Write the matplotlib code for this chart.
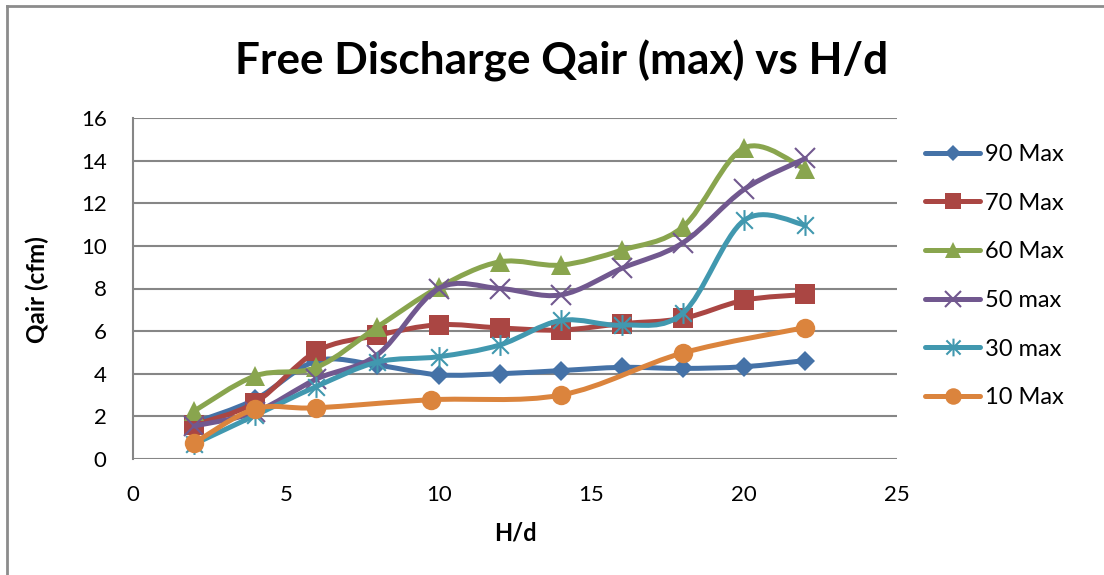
import matplotlib.pyplot as plt
import numpy as np
from matplotlib.path import Path
from matplotlib.patches import PathPatch
from matplotlib.lines import Line2D

plt.rcParams['font.family'] = ['Lato', 'DejaVu Sans']

# Datos
hd = [2, 4, 6, 8, 10, 12, 14, 16, 18, 20, 22]
q90 = [1.7, 2.8, 4.6, 4.4, 3.95, 4.0, 4.15, 4.3, 4.25, 4.33, 4.62]
q70 = [1.6, 2.65, 5.05, 5.8, 6.3, 6.15, 6.05, 6.35, 6.6, 7.45, 7.72]
q60 = [2.25, 3.9, 4.3, 6.2, 8.05, 9.25, 9.1, 9.8, 10.9, 14.6, 13.6]
q50 = [1.55, 2.2, 3.75, 4.9, 8.0, 8.0, 7.7, 8.95, 10.15, 12.65, 14.1]
q30 = [0.7, 2.05, 3.4, 4.55, 4.8, 5.35, 6.5, 6.28, 6.85, 11.2, 10.98]
hd10 = [2, 4, 6, 9.75, 14, 18, 22]
q10 = [0.75, 2.35, 2.4, 2.78, 3.0, 4.98, 6.17]

etiquetas = ['90 Max', '70 Max', '60 Max', '50 max', '30 max', '10 Max']
colores = ['#4572A7', '#AA4643', '#89A54E', '#71588F', '#4198AF', '#DB843D']

# marcador estrella (x con línea vertical) como en Excel
estrella = Path([(0, -1), (0, 1), (-0.8, -0.8), (0.8, 0.8), (-0.8, 0.8), (0.8, -0.8)],
                [Path.MOVETO, Path.LINETO] * 3)
marcadores = [('D', 10), ('s', 14), ('^', 14), ('x', 14), (estrella, 15), ('o', 14)]


# Curva suavizada tipo Excel (Bezier por los puntos)
def curva_suave(x, y):
    pts = np.column_stack([x, y]).astype(float)
    verts = [pts[0]]
    codes = [Path.MOVETO]
    for i in range(len(pts) - 1):
        p0 = pts[i - 1] if i > 0 else pts[i]
        p1 = pts[i]
        p2 = pts[i + 1]
        p3 = pts[i + 2] if i + 2 < len(pts) else p2
        verts += [p1 + (p2 - p0) / 6, p2 - (p3 - p1) / 6, p2]
        codes += [Path.CURVE4] * 3
    return Path(verts, codes)


fig = plt.figure(figsize=(11.04, 5.75), dpi=100)
ax = fig.add_axes([133 / 1104, 1 - 459 / 575, (897 - 133) / 1104, (459 - 118) / 575])

series = [(hd, q90), (hd, q70), (hd, q60), (hd, q50), (hd, q30), (hd10, q10)]
handles = []
for k, (x, y) in enumerate(series):
    c = colores[k]
    m, ms = marcadores[k]
    ax.add_patch(PathPatch(curva_suave(x, y), facecolor='none', edgecolor=c, lw=3.6,
                           capstyle='round', joinstyle='round', zorder=3 + 2 * k))
    lineas = m in ('x',) or m is estrella
    ax.plot(x, y, linestyle='none', marker=m, markersize=ms, color=c,
            markeredgewidth=1.5 if lineas else 0, zorder=4 + 2 * k)
    handles.append(Line2D([], [], color=c, lw=3.6, marker=m, markersize=ms * 0.85,
                          markeredgewidth=1.5 if lineas else 0, solid_capstyle='round'))

ax.set_xlim(0, 25)
ax.set_ylim(0, 16)
ax.set_xticks(range(0, 26, 5))
ax.set_yticks(range(0, 17, 2))
ax.grid(axis='y', color='#868686', lw=1.5)
ax.set_axisbelow(True)
for s in ['top', 'right', 'bottom']:
    ax.spines[s].set_visible(False)
ax.spines['left'].set_color('#868686')
ax.spines['left'].set_linewidth(1.5)
ax.tick_params(length=0, labelsize=16, pad=19)

fig.text(562 / 1104, 1 - 75 / 575, 'Free Discharge Qair (max) vs H/d', ha='center', va='baseline',
         fontsize=31.8, fontweight='bold')
fig.text(37 / 1104, 1 - 290 / 575, 'Qair (cfm)', rotation=90, ha='center', va='center',
         fontsize=17.5, fontweight='bold')
fig.text(515 / 1104, 1 - 533 / 575, 'H/d', ha='center', va='center', fontsize=17, fontweight='bold')

fig.legend(handles, etiquetas, loc='upper left', bbox_to_anchor=(925 / 1104, 1 - 144 / 575),
           frameon=False, fontsize=17, handlelength=2.35, handletextpad=0.2,
           labelspacing=1.17, borderpad=0, borderaxespad=0)

# borde del gráfico
fig.add_artist(Line2D([7 / 1104, 7 / 1104], [0, 1 - 6 / 575], color='#8c8c8c', lw=2))
fig.add_artist(Line2D([7 / 1104, 1], [1 - 6 / 575, 1 - 6 / 575], color='#8c8c8c', lw=2))

fig.savefig('out.png', dpi=100)
